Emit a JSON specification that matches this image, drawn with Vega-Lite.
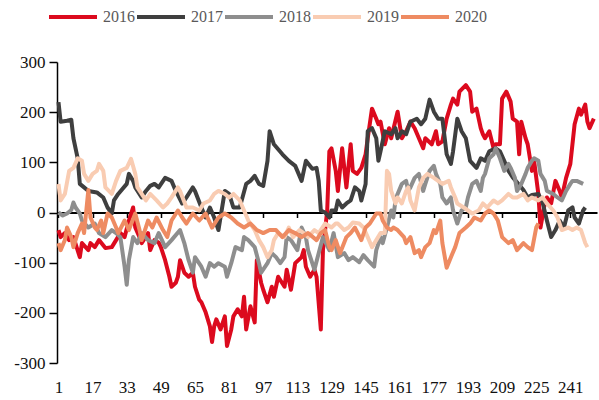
{
"$schema": "https://vega.github.io/schema/vega-lite/v6.json",
"width": 540,
"height": 301,
"autosize": {"type": "none"},
"padding": {"left": 57, "top": 62, "right": 2, "bottom": 37},
"background": "white",
"config": {"view": {"stroke": null}},
"data": {"values": [
{"s":"2016","t":1,"v":-35},{"s":"2016","t":2,"v":-49},{"s":"2016","t":4,"v":-41},{"s":"2016","t":6,"v":-55},{"s":"2016","t":8,"v":-49},{"s":"2016","t":11,"v":-89},{"s":"2016","t":12,"v":-61},{"s":"2016","t":15,"v":-75},{"s":"2016","t":16,"v":-61},{"s":"2016","t":18,"v":-69},{"s":"2016","t":20,"v":-55},{"s":"2016","t":23,"v":-71},{"s":"2016","t":26,"v":-69},{"s":"2016","t":28,"v":-55},{"s":"2016","t":30,"v":-41},{"s":"2016","t":32,"v":-49},{"s":"2016","t":34,"v":-16},{"s":"2016","t":36,"v":10},{"s":"2016","t":37,"v":-30},{"s":"2016","t":39,"v":-49},{"s":"2016","t":40,"v":-61},{"s":"2016","t":43,"v":-41},{"s":"2016","t":44,"v":-75},{"s":"2016","t":46,"v":-55},{"s":"2016","t":48,"v":-60},{"s":"2016","t":49,"v":-69},{"s":"2016","t":51,"v":-95},{"s":"2016","t":53,"v":-128},{"s":"2016","t":54,"v":-148},{"s":"2016","t":56,"v":-140},{"s":"2016","t":57,"v":-128},{"s":"2016","t":58,"v":-95},{"s":"2016","t":60,"v":-120},{"s":"2016","t":62,"v":-128},{"s":"2016","t":64,"v":-120},{"s":"2016","t":65,"v":-148},{"s":"2016","t":67,"v":-174},{"s":"2016","t":68,"v":-179},{"s":"2016","t":70,"v":-199},{"s":"2016","t":72,"v":-227},{"s":"2016","t":73,"v":-258},{"s":"2016","t":74,"v":-227},{"s":"2016","t":75,"v":-213},{"s":"2016","t":77,"v":-233},{"s":"2016","t":79,"v":-207},{"s":"2016","t":80,"v":-266},{"s":"2016","t":82,"v":-233},{"s":"2016","t":83,"v":-207},{"s":"2016","t":85,"v":-193},{"s":"2016","t":87,"v":-207},{"s":"2016","t":88,"v":-168},{"s":"2016","t":89,"v":-233},{"s":"2016","t":91,"v":-187},{"s":"2016","t":93,"v":-219},{"s":"2016","t":94,"v":-95},{"s":"2016","t":96,"v":-140},{"s":"2016","t":97,"v":-154},{"s":"2016","t":99,"v":-179},{"s":"2016","t":101,"v":-148},{"s":"2016","t":102,"v":-168},{"s":"2016","t":104,"v":-128},{"s":"2016","t":107,"v":-148},{"s":"2016","t":108,"v":-114},{"s":"2016","t":110,"v":-154},{"s":"2016","t":112,"v":-101},{"s":"2016","t":115,"v":-89},{"s":"2016","t":116,"v":-75},{"s":"2016","t":117,"v":-108},{"s":"2016","t":119,"v":-128},{"s":"2016","t":121,"v":-114},{"s":"2016","t":122,"v":-128},{"s":"2016","t":124,"v":-233},{"s":"2016","t":125,"v":-75},{"s":"2016","t":127,"v":4},{"s":"2016","t":128,"v":122},{"s":"2016","t":129,"v":128},{"s":"2016","t":131,"v":83},{"s":"2016","t":132,"v":43},{"s":"2016","t":134,"v":128},{"s":"2016","t":136,"v":50},{"s":"2016","t":138,"v":136},{"s":"2016","t":139,"v":83},{"s":"2016","t":141,"v":77},{"s":"2016","t":143,"v":89},{"s":"2016","t":145,"v":116},{"s":"2016","t":146,"v":148},{"s":"2016","t":148,"v":207},{"s":"2016","t":150,"v":187},{"s":"2016","t":151,"v":176},{"s":"2016","t":152,"v":181},{"s":"2016","t":154,"v":136},{"s":"2016","t":156,"v":168},{"s":"2016","t":157,"v":148},{"s":"2016","t":160,"v":201},{"s":"2016","t":162,"v":148},{"s":"2016","t":164,"v":162},{"s":"2016","t":166,"v":181},{"s":"2016","t":168,"v":168},{"s":"2016","t":170,"v":148},{"s":"2016","t":172,"v":128},{"s":"2016","t":173,"v":148},{"s":"2016","t":176,"v":136},{"s":"2016","t":178,"v":162},{"s":"2016","t":179,"v":136},{"s":"2016","t":181,"v":142},{"s":"2016","t":183,"v":187},{"s":"2016","t":185,"v":215},{"s":"2016","t":186,"v":227},{"s":"2016","t":188,"v":215},{"s":"2016","t":189,"v":241},{"s":"2016","t":192,"v":254},{"s":"2016","t":194,"v":241},{"s":"2016","t":195,"v":201},{"s":"2016","t":197,"v":207},{"s":"2016","t":199,"v":168},{"s":"2016","t":200,"v":156},{"s":"2016","t":201,"v":148},{"s":"2016","t":203,"v":162},{"s":"2016","t":205,"v":128},{"s":"2016","t":206,"v":136},{"s":"2016","t":208,"v":136},{"s":"2016","t":209,"v":227},{"s":"2016","t":211,"v":241},{"s":"2016","t":213,"v":221},{"s":"2016","t":214,"v":187},{"s":"2016","t":216,"v":181},{"s":"2016","t":217,"v":116},{"s":"2016","t":218,"v":181},{"s":"2016","t":220,"v":148},{"s":"2016","t":221,"v":136},{"s":"2016","t":223,"v":83},{"s":"2016","t":224,"v":103},{"s":"2016","t":226,"v":37},{"s":"2016","t":227,"v":-30},{"s":"2016","t":229,"v":18},{"s":"2016","t":230,"v":30},{"s":"2016","t":232,"v":18},{"s":"2016","t":234,"v":63},{"s":"2016","t":236,"v":43},{"s":"2016","t":237,"v":30},{"s":"2016","t":239,"v":69},{"s":"2016","t":241,"v":97},{"s":"2016","t":243,"v":176},{"s":"2016","t":245,"v":207},{"s":"2016","t":246,"v":195},{"s":"2016","t":248,"v":215},{"s":"2016","t":249,"v":181},{"s":"2016","t":250,"v":168},{"s":"2016","t":252,"v":187},
{"s":"2017","t":1,"v":220},{"s":"2017","t":2,"v":181},{"s":"2017","t":5,"v":183},{"s":"2017","t":7,"v":185},{"s":"2017","t":8,"v":148},{"s":"2017","t":10,"v":108},{"s":"2017","t":11,"v":57},{"s":"2017","t":13,"v":50},{"s":"2017","t":15,"v":43},{"s":"2017","t":19,"v":40},{"s":"2017","t":22,"v":30},{"s":"2017","t":24,"v":10},{"s":"2017","t":26,"v":-2},{"s":"2017","t":27,"v":24},{"s":"2017","t":29,"v":37},{"s":"2017","t":33,"v":57},{"s":"2017","t":34,"v":77},{"s":"2017","t":36,"v":63},{"s":"2017","t":37,"v":50},{"s":"2017","t":40,"v":30},{"s":"2017","t":42,"v":43},{"s":"2017","t":44,"v":53},{"s":"2017","t":46,"v":57},{"s":"2017","t":48,"v":50},{"s":"2017","t":51,"v":69},{"s":"2017","t":54,"v":63},{"s":"2017","t":56,"v":43},{"s":"2017","t":59,"v":18},{"s":"2017","t":61,"v":30},{"s":"2017","t":64,"v":50},{"s":"2017","t":65,"v":43},{"s":"2017","t":68,"v":10},{"s":"2017","t":70,"v":-10},{"s":"2017","t":72,"v":10},{"s":"2017","t":74,"v":-10},{"s":"2017","t":76,"v":-35},{"s":"2017","t":79,"v":43},{"s":"2017","t":81,"v":37},{"s":"2017","t":83,"v":10},{"s":"2017","t":86,"v":10},{"s":"2017","t":89,"v":57},{"s":"2017","t":91,"v":63},{"s":"2017","t":93,"v":73},{"s":"2017","t":95,"v":57},{"s":"2017","t":97,"v":53},{"s":"2017","t":99,"v":103},{"s":"2017","t":100,"v":162},{"s":"2017","t":102,"v":136},{"s":"2017","t":106,"v":116},{"s":"2017","t":109,"v":103},{"s":"2017","t":112,"v":93},{"s":"2017","t":115,"v":63},{"s":"2017","t":117,"v":103},{"s":"2017","t":120,"v":87},{"s":"2017","t":122,"v":89},{"s":"2017","t":123,"v":63},{"s":"2017","t":124,"v":4},{"s":"2017","t":126,"v":0},{"s":"2017","t":128,"v":-10},{"s":"2017","t":129,"v":4},{"s":"2017","t":131,"v":4},{"s":"2017","t":132,"v":24},{"s":"2017","t":134,"v":10},{"s":"2017","t":136,"v":18},{"s":"2017","t":138,"v":24},{"s":"2017","t":140,"v":50},{"s":"2017","t":142,"v":43},{"s":"2017","t":143,"v":24},{"s":"2017","t":145,"v":57},{"s":"2017","t":146,"v":162},{"s":"2017","t":148,"v":168},{"s":"2017","t":150,"v":148},{"s":"2017","t":151,"v":103},{"s":"2017","t":152,"v":122},{"s":"2017","t":154,"v":162},{"s":"2017","t":157,"v":156},{"s":"2017","t":159,"v":168},{"s":"2017","t":160,"v":148},{"s":"2017","t":162,"v":162},{"s":"2017","t":164,"v":156},{"s":"2017","t":166,"v":181},{"s":"2017","t":169,"v":187},{"s":"2017","t":171,"v":176},{"s":"2017","t":173,"v":187},{"s":"2017","t":175,"v":225},{"s":"2017","t":177,"v":201},{"s":"2017","t":179,"v":187},{"s":"2017","t":181,"v":187},{"s":"2017","t":183,"v":116},{"s":"2017","t":185,"v":97},{"s":"2017","t":186,"v":122},{"s":"2017","t":188,"v":187},{"s":"2017","t":190,"v":162},{"s":"2017","t":192,"v":148},{"s":"2017","t":194,"v":103},{"s":"2017","t":197,"v":89},{"s":"2017","t":199,"v":108},{"s":"2017","t":201,"v":103},{"s":"2017","t":203,"v":122},{"s":"2017","t":206,"v":128},{"s":"2017","t":208,"v":122},{"s":"2017","t":210,"v":103},{"s":"2017","t":212,"v":83},{"s":"2017","t":214,"v":70},{"s":"2017","t":216,"v":60},{"s":"2017","t":219,"v":45},{"s":"2017","t":221,"v":30},{"s":"2017","t":223,"v":35},{"s":"2017","t":226,"v":37},{"s":"2017","t":228,"v":20},{"s":"2017","t":230,"v":-16},{"s":"2017","t":232,"v":-49},{"s":"2017","t":234,"v":-35},{"s":"2017","t":236,"v":-16},{"s":"2017","t":238,"v":-30},{"s":"2017","t":240,"v":4},{"s":"2017","t":242,"v":10},{"s":"2017","t":243,"v":-10},{"s":"2017","t":245,"v":-22},{"s":"2017","t":247,"v":4},{"s":"2017","t":248,"v":10},
{"s":"2018","t":1,"v":0},{"s":"2018","t":3,"v":-6},{"s":"2018","t":5,"v":-2},{"s":"2018","t":7,"v":5},{"s":"2018","t":8,"v":20},{"s":"2018","t":9,"v":10},{"s":"2018","t":11,"v":-2},{"s":"2018","t":12,"v":-16},{"s":"2018","t":15,"v":-30},{"s":"2018","t":18,"v":-22},{"s":"2018","t":20,"v":-41},{"s":"2018","t":23,"v":-49},{"s":"2018","t":26,"v":-35},{"s":"2018","t":28,"v":-41},{"s":"2018","t":30,"v":-49},{"s":"2018","t":32,"v":-108},{"s":"2018","t":33,"v":-144},{"s":"2018","t":34,"v":-95},{"s":"2018","t":36,"v":-49},{"s":"2018","t":38,"v":-61},{"s":"2018","t":40,"v":-41},{"s":"2018","t":43,"v":-55},{"s":"2018","t":46,"v":-61},{"s":"2018","t":48,"v":-41},{"s":"2018","t":51,"v":-69},{"s":"2018","t":54,"v":-55},{"s":"2018","t":58,"v":-35},{"s":"2018","t":60,"v":-61},{"s":"2018","t":62,"v":-95},{"s":"2018","t":64,"v":-120},{"s":"2018","t":65,"v":-89},{"s":"2018","t":68,"v":-108},{"s":"2018","t":70,"v":-128},{"s":"2018","t":72,"v":-101},{"s":"2018","t":74,"v":-108},{"s":"2018","t":76,"v":-101},{"s":"2018","t":79,"v":-108},{"s":"2018","t":80,"v":-128},{"s":"2018","t":82,"v":-101},{"s":"2018","t":84,"v":-69},{"s":"2018","t":87,"v":-75},{"s":"2018","t":88,"v":-49},{"s":"2018","t":90,"v":-55},{"s":"2018","t":93,"v":-69},{"s":"2018","t":95,"v":-101},{"s":"2018","t":96,"v":-120},{"s":"2018","t":99,"v":-101},{"s":"2018","t":101,"v":-81},{"s":"2018","t":103,"v":-89},{"s":"2018","t":105,"v":-101},{"s":"2018","t":107,"v":-89},{"s":"2018","t":108,"v":-49},{"s":"2018","t":110,"v":-55},{"s":"2018","t":113,"v":-75},{"s":"2018","t":115,"v":-30},{"s":"2018","t":117,"v":-49},{"s":"2018","t":118,"v":-75},{"s":"2018","t":121,"v":-114},{"s":"2018","t":123,"v":-81},{"s":"2018","t":125,"v":-49},{"s":"2018","t":128,"v":-75},{"s":"2018","t":130,"v":-41},{"s":"2018","t":132,"v":-89},{"s":"2018","t":135,"v":-81},{"s":"2018","t":137,"v":-95},{"s":"2018","t":139,"v":-89},{"s":"2018","t":142,"v":-99},{"s":"2018","t":144,"v":-85},{"s":"2018","t":146,"v":-95},{"s":"2018","t":149,"v":-108},{"s":"2018","t":150,"v":-75},{"s":"2018","t":152,"v":-49},{"s":"2018","t":153,"v":-61},{"s":"2018","t":155,"v":-30},{"s":"2018","t":157,"v":4},{"s":"2018","t":158,"v":-10},{"s":"2018","t":159,"v":24},{"s":"2018","t":160,"v":37},{"s":"2018","t":162,"v":57},{"s":"2018","t":164,"v":63},{"s":"2018","t":165,"v":43},{"s":"2018","t":166,"v":50},{"s":"2018","t":168,"v":69},{"s":"2018","t":170,"v":77},{"s":"2018","t":172,"v":43},{"s":"2018","t":173,"v":57},{"s":"2018","t":175,"v":83},{"s":"2018","t":177,"v":93},{"s":"2018","t":178,"v":77},{"s":"2018","t":180,"v":57},{"s":"2018","t":181,"v":30},{"s":"2018","t":183,"v":18},{"s":"2018","t":185,"v":30},{"s":"2018","t":186,"v":4},{"s":"2018","t":188,"v":-22},{"s":"2018","t":190,"v":4},{"s":"2018","t":192,"v":10},{"s":"2018","t":193,"v":30},{"s":"2018","t":195,"v":57},{"s":"2018","t":197,"v":63},{"s":"2018","t":199,"v":43},{"s":"2018","t":200,"v":69},{"s":"2018","t":201,"v":77},{"s":"2018","t":203,"v":108},{"s":"2018","t":205,"v":116},{"s":"2018","t":206,"v":128},{"s":"2018","t":208,"v":108},{"s":"2018","t":210,"v":83},{"s":"2018","t":212,"v":97},{"s":"2018","t":213,"v":89},{"s":"2018","t":215,"v":69},{"s":"2018","t":216,"v":43},{"s":"2018","t":218,"v":57},{"s":"2018","t":220,"v":77},{"s":"2018","t":221,"v":89},{"s":"2018","t":223,"v":103},{"s":"2018","t":224,"v":108},{"s":"2018","t":226,"v":103},{"s":"2018","t":227,"v":77},{"s":"2018","t":229,"v":63},{"s":"2018","t":230,"v":43},{"s":"2018","t":233,"v":37},{"s":"2018","t":235,"v":30},{"s":"2018","t":237,"v":24},{"s":"2018","t":239,"v":43},{"s":"2018","t":241,"v":57},{"s":"2018","t":242,"v":63},{"s":"2018","t":244,"v":63},{"s":"2018","t":247,"v":57},
{"s":"2019","t":1,"v":57},{"s":"2019","t":2,"v":24},{"s":"2019","t":4,"v":37},{"s":"2019","t":6,"v":83},{"s":"2019","t":8,"v":89},{"s":"2019","t":10,"v":108},{"s":"2019","t":12,"v":103},{"s":"2019","t":13,"v":77},{"s":"2019","t":15,"v":63},{"s":"2019","t":17,"v":77},{"s":"2019","t":19,"v":83},{"s":"2019","t":20,"v":97},{"s":"2019","t":22,"v":83},{"s":"2019","t":23,"v":50},{"s":"2019","t":26,"v":37},{"s":"2019","t":28,"v":63},{"s":"2019","t":30,"v":83},{"s":"2019","t":33,"v":89},{"s":"2019","t":35,"v":107},{"s":"2019","t":37,"v":77},{"s":"2019","t":38,"v":50},{"s":"2019","t":40,"v":37},{"s":"2019","t":42,"v":24},{"s":"2019","t":44,"v":37},{"s":"2019","t":47,"v":24},{"s":"2019","t":50,"v":10},{"s":"2019","t":52,"v":18},{"s":"2019","t":54,"v":30},{"s":"2019","t":57,"v":50},{"s":"2019","t":58,"v":43},{"s":"2019","t":61,"v":10},{"s":"2019","t":64,"v":10},{"s":"2019","t":67,"v":4},{"s":"2019","t":69,"v":18},{"s":"2019","t":72,"v":24},{"s":"2019","t":74,"v":37},{"s":"2019","t":76,"v":43},{"s":"2019","t":79,"v":37},{"s":"2019","t":81,"v":30},{"s":"2019","t":83,"v":37},{"s":"2019","t":86,"v":24},{"s":"2019","t":88,"v":4},{"s":"2019","t":90,"v":-16},{"s":"2019","t":93,"v":-35},{"s":"2019","t":95,"v":-55},{"s":"2019","t":97,"v":-69},{"s":"2019","t":99,"v":-89},{"s":"2019","t":101,"v":-75},{"s":"2019","t":102,"v":-55},{"s":"2019","t":104,"v":-41},{"s":"2019","t":107,"v":-49},{"s":"2019","t":109,"v":-30},{"s":"2019","t":111,"v":-49},{"s":"2019","t":114,"v":-35},{"s":"2019","t":116,"v":-41},{"s":"2019","t":118,"v":-49},{"s":"2019","t":121,"v":-35},{"s":"2019","t":123,"v":-41},{"s":"2019","t":126,"v":-22},{"s":"2019","t":129,"v":-30},{"s":"2019","t":131,"v":-22},{"s":"2019","t":132,"v":-22},{"s":"2019","t":135,"v":-35},{"s":"2019","t":137,"v":-30},{"s":"2019","t":139,"v":-20},{"s":"2019","t":142,"v":-22},{"s":"2019","t":144,"v":-30},{"s":"2019","t":146,"v":-49},{"s":"2019","t":148,"v":-69},{"s":"2019","t":150,"v":-55},{"s":"2019","t":152,"v":-41},{"s":"2019","t":154,"v":-41},{"s":"2019","t":155,"v":83},{"s":"2019","t":156,"v":77},{"s":"2019","t":157,"v":43},{"s":"2019","t":159,"v":18},{"s":"2019","t":160,"v":30},{"s":"2019","t":162,"v":18},{"s":"2019","t":164,"v":43},{"s":"2019","t":165,"v":50},{"s":"2019","t":166,"v":24},{"s":"2019","t":168,"v":4},{"s":"2019","t":170,"v":50},{"s":"2019","t":172,"v":69},{"s":"2019","t":174,"v":77},{"s":"2019","t":177,"v":69},{"s":"2019","t":179,"v":63},{"s":"2019","t":181,"v":57},{"s":"2019","t":184,"v":63},{"s":"2019","t":185,"v":50},{"s":"2019","t":187,"v":30},{"s":"2019","t":188,"v":18},{"s":"2019","t":191,"v":10},{"s":"2019","t":193,"v":4},{"s":"2019","t":195,"v":-2},{"s":"2019","t":198,"v":4},{"s":"2019","t":200,"v":18},{"s":"2019","t":202,"v":10},{"s":"2019","t":205,"v":24},{"s":"2019","t":207,"v":18},{"s":"2019","t":209,"v":24},{"s":"2019","t":212,"v":37},{"s":"2019","t":214,"v":30},{"s":"2019","t":216,"v":30},{"s":"2019","t":219,"v":37},{"s":"2019","t":221,"v":24},{"s":"2019","t":223,"v":30},{"s":"2019","t":226,"v":24},{"s":"2019","t":228,"v":30},{"s":"2019","t":230,"v":18},{"s":"2019","t":233,"v":4},{"s":"2019","t":235,"v":-10},{"s":"2019","t":237,"v":-35},{"s":"2019","t":240,"v":-30},{"s":"2019","t":242,"v":-35},{"s":"2019","t":244,"v":-30},{"s":"2019","t":246,"v":-35},{"s":"2019","t":248,"v":-61},{"s":"2019","t":249,"v":-69},
{"s":"2020","t":1,"v":-61},{"s":"2020","t":2,"v":-75},{"s":"2020","t":4,"v":-55},{"s":"2020","t":5,"v":-30},{"s":"2020","t":7,"v":-49},{"s":"2020","t":8,"v":-69},{"s":"2020","t":10,"v":-41},{"s":"2020","t":12,"v":-22},{"s":"2020","t":13,"v":-41},{"s":"2020","t":15,"v":45},{"s":"2020","t":16,"v":-10},{"s":"2020","t":18,"v":-30},{"s":"2020","t":19,"v":-35},{"s":"2020","t":21,"v":-16},{"s":"2020","t":22,"v":-41},{"s":"2020","t":24,"v":-2},{"s":"2020","t":26,"v":-10},{"s":"2020","t":28,"v":-30},{"s":"2020","t":29,"v":-41},{"s":"2020","t":32,"v":-16},{"s":"2020","t":34,"v":-35},{"s":"2020","t":37,"v":-2},{"s":"2020","t":39,"v":-35},{"s":"2020","t":40,"v":-55},{"s":"2020","t":43,"v":-16},{"s":"2020","t":45,"v":-30},{"s":"2020","t":47,"v":-10},{"s":"2020","t":50,"v":-35},{"s":"2020","t":52,"v":-49},{"s":"2020","t":54,"v":-16},{"s":"2020","t":57,"v":4},{"s":"2020","t":59,"v":-10},{"s":"2020","t":61,"v":-22},{"s":"2020","t":64,"v":-2},{"s":"2020","t":67,"v":-16},{"s":"2020","t":70,"v":-2},{"s":"2020","t":73,"v":-30},{"s":"2020","t":76,"v":-10},{"s":"2020","t":79,"v":-2},{"s":"2020","t":82,"v":-10},{"s":"2020","t":85,"v":-22},{"s":"2020","t":88,"v":-30},{"s":"2020","t":91,"v":-22},{"s":"2020","t":94,"v":-35},{"s":"2020","t":97,"v":-41},{"s":"2020","t":100,"v":-35},{"s":"2020","t":103,"v":-35},{"s":"2020","t":106,"v":-49},{"s":"2020","t":109,"v":-35},{"s":"2020","t":112,"v":-41},{"s":"2020","t":115,"v":-49},{"s":"2020","t":118,"v":-41},{"s":"2020","t":122,"v":-55},{"s":"2020","t":124,"v":-41},{"s":"2020","t":126,"v":-35},{"s":"2020","t":128,"v":-69},{"s":"2020","t":129,"v":-75},{"s":"2020","t":131,"v":-55},{"s":"2020","t":133,"v":-81},{"s":"2020","t":136,"v":-49},{"s":"2020","t":138,"v":-41},{"s":"2020","t":140,"v":-30},{"s":"2020","t":143,"v":-55},{"s":"2020","t":145,"v":-30},{"s":"2020","t":147,"v":-22},{"s":"2020","t":150,"v":-2},{"s":"2020","t":152,"v":-2},{"s":"2020","t":153,"v":-16},{"s":"2020","t":155,"v":-30},{"s":"2020","t":157,"v":-35},{"s":"2020","t":158,"v":-30},{"s":"2020","t":160,"v":-35},{"s":"2020","t":163,"v":-49},{"s":"2020","t":164,"v":-61},{"s":"2020","t":166,"v":-49},{"s":"2020","t":168,"v":-81},{"s":"2020","t":170,"v":-75},{"s":"2020","t":171,"v":-89},{"s":"2020","t":173,"v":-69},{"s":"2020","t":175,"v":-61},{"s":"2020","t":177,"v":-35},{"s":"2020","t":178,"v":-41},{"s":"2020","t":180,"v":-16},{"s":"2020","t":181,"v":-61},{"s":"2020","t":183,"v":-110},{"s":"2020","t":185,"v":-89},{"s":"2020","t":187,"v":-69},{"s":"2020","t":189,"v":-41},{"s":"2020","t":192,"v":-30},{"s":"2020","t":194,"v":-22},{"s":"2020","t":196,"v":-10},{"s":"2020","t":199,"v":-16},{"s":"2020","t":201,"v":-2},{"s":"2020","t":203,"v":4},{"s":"2020","t":205,"v":-2},{"s":"2020","t":207,"v":-16},{"s":"2020","t":209,"v":-49},{"s":"2020","t":212,"v":-61},{"s":"2020","t":214,"v":-55},{"s":"2020","t":216,"v":-75},{"s":"2020","t":219,"v":-61},{"s":"2020","t":221,"v":-69},{"s":"2020","t":223,"v":-75},{"s":"2020","t":225,"v":-30},{"s":"2020","t":226,"v":-22}
]},
"mark": {"type": "line", "strokeWidth": 4, "strokeJoin": "round", "strokeCap": "butt"},
"encoding": {
"x": {"field": "t", "type": "quantitative",
 "scale": {"domain": [0.3, 253.5], "nice": false, "zero": false},
 "axis": {"orient": "bottom", "offset": -150.5, "values": [1,17,33,49,65,81,97,113,129,145,161,177,193,209,225,241],
  "title": null, "grid": false, "domainColor": "#000000", "domainWidth": 2, "tickColor": "#000000", "tickWidth": 1.5, "tickSize": 5,
  "labelPadding": 162, "labelFont": "Liberation Serif", "labelFontSize": 17, "labelColor": "#111111", "labelFlush": false, "labelOverlap": false, "labelBound": false}},
"y": {"field": "v", "type": "quantitative",
 "scale": {"domain": [-300, 300], "nice": false},
 "axis": {"values": [-300,-200,-100,0,100,200,300], "title": null, "grid": false,
  "domainColor": "#000000", "domainWidth": 1.5, "tickColor": "#000000", "tickWidth": 1.5, "tickSize": 8,
  "labelPadding": 4, "labelFont": "Liberation Serif", "labelFontSize": 17, "labelColor": "#111111",
  "labelExpr": "replace(datum.label, '−', '-')", "labelFlush": false, "labelOverlap": false}},
"color": {"field": "s", "type": "nominal",
 "scale": {"domain": ["2016","2017","2018","2019","2020"], "range": ["#DC0A1E","#3F3F3F","#8E8E8E","#F9CCB2","#EE8B62"]},
 "legend": {"title": null, "orient": "none", "direction": "horizontal", "legendX": -10, "legendY": -71,
  "symbolType": "stroke", "symbolSize": 2304, "symbolStrokeWidth": 4,
  "labelFont": "Liberation Serif", "labelFontSize": 16, "labelColor": "#595959", "labelOffset": 4, "columnPadding": -9}}
}
}
